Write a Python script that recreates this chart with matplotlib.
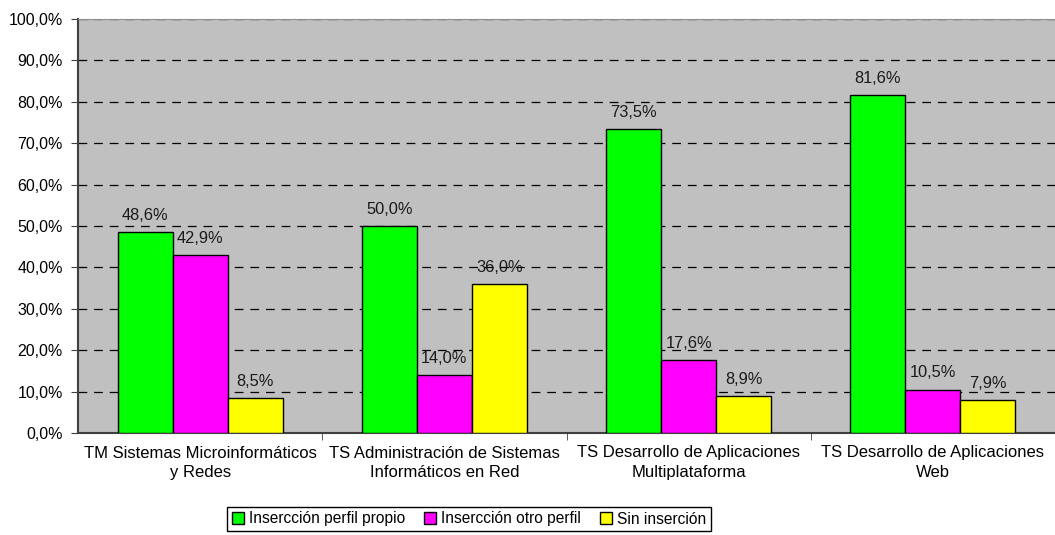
import numpy as np
import matplotlib.pyplot as plt
from matplotlib.ticker import FuncFormatter

categories = ["TM Sistemas Microinformáticos\ny Redes",
              "TS Administración de Sistemas\nInformáticos en Red",
              "TS Desarrollo de Aplicaciones\nMultiplataforma",
              "TS Desarrollo de Aplicaciones\nWeb"]
propio = [48.6, 50.0, 73.5, 81.6]
otro = [42.9, 14.0, 17.6, 10.5]
sin = [8.5, 36.0, 8.9, 7.9]
series = ["Inserccción perfil propio".replace("ccc", "cc"),
          "Inserccción otro perfil".replace("ccc", "cc"),
          "Sin inserción"]
colors = ["#00FF00", "#FF00FF", "#FFFF00"]

plt.rcParams['font.family'] = ['Liberation Sans', 'DejaVu Sans']

fig = plt.figure(figsize=(10.55, 5.35), dpi=100)
ax = fig.add_axes([78/1055, 1 - 433/535, 977/1055, (433-19)/535])
ax.set_facecolor("#C0C0C0")

x = np.arange(len(categories))
w = 0.225
for i, (vals, col, name) in enumerate(zip([propio, otro, sin], colors, series)):
    pos = x + (i - 1) * w
    bars = ax.bar(pos, vals, w, color=col, edgecolor="black", linewidth=1, label=name, zorder=3)
    for b, v in zip(bars, vals):
        ax.text(b.get_x() + b.get_width()/2, v + 2.2, f"{v:.1f}%".replace(".", ","),
                ha="center", va="bottom", fontsize=11.8, color="#1a1a1a", zorder=4)

ax.set_xlim(-0.5, len(categories) - 0.5)
ax.set_ylim(0, 100)
ax.set_yticks(np.arange(0, 101, 10))
ax.yaxis.set_major_formatter(FuncFormatter(lambda v, p: f"{v:.1f}%".replace(".", ",")))
ax.yaxis.grid(True, linestyle=(0, (7, 5.5)), color="black", linewidth=0.9, zorder=0)
ax.set_axisbelow(True)

ax.set_xticks(x)
ax.set_xticklabels(categories, fontsize=12, linespacing=1.35)
ax.tick_params(axis="x", length=0, pad=9)
ax.set_xticks(np.arange(0.5, len(categories) - 0.5), minor=True)
ax.tick_params(axis="x", which="minor", length=5, color="#404040")
ax.tick_params(axis="y", labelsize=11.5, length=5, pad=6, color="#404040")

for s in ["left", "bottom"]:
    ax.spines[s].set_color("#404040")
    ax.spines[s].set_linewidth(1.5)
ax.spines["top"].set_color("#909090")
ax.spines["right"].set_visible(False)

fig.legend(loc="center", bbox_to_anchor=(469/1055, 1 - 519/535), ncol=3, fontsize=11.2,
           frameon=True, fancybox=False, edgecolor="black", framealpha=1,
           handlelength=0.8, handleheight=0.8, handletextpad=0.3, columnspacing=1.2,
           borderpad=0.3)

fig.savefig("out.png", dpi=100)
